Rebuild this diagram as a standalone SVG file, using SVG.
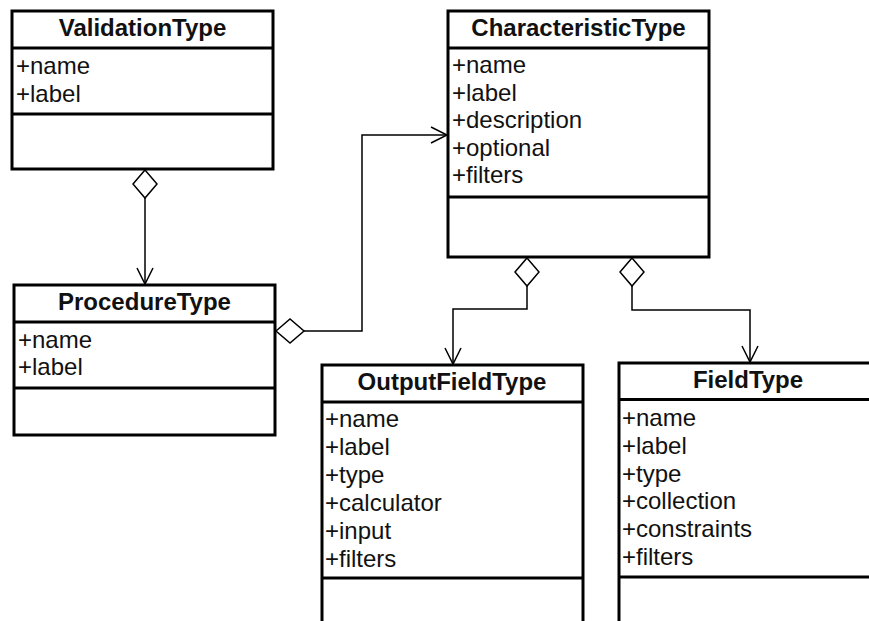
<svg xmlns="http://www.w3.org/2000/svg" width="869" height="621" viewBox="0 0 869 621">
<style>
  .box{fill:#fff;stroke:#000;stroke-width:3}
  .sep{stroke:#000;stroke-width:3}
  .title{font-family:"Liberation Sans",Arial,sans-serif;font-size:24px;font-weight:bold;fill:#111;text-anchor:middle}
  .attr{font-family:"Liberation Sans",Arial,sans-serif;font-size:24px;fill:#111}
  .conn{fill:none;stroke:#000;stroke-width:1.5;marker-start:url(#diamond);marker-end:url(#arrow)}
</style>
<defs>
  <marker id="diamond" markerUnits="userSpaceOnUse" viewBox="-2 -14 32 28" refX="0" refY="0" markerWidth="32" markerHeight="28" orient="auto" overflow="visible">
    <path d="M0,0 L14,-12 L28,0 L14,12 Z" fill="#fff" stroke="#000" stroke-width="1.5"/>
  </marker>
  <marker id="arrow" markerUnits="userSpaceOnUse" viewBox="-18 -10 20 20" refX="0" refY="0" markerWidth="20" markerHeight="20" orient="auto" overflow="visible">
    <path d="M-16,-8 L0,0 L-16,8" fill="none" stroke="#000" stroke-width="1.5"/>
  </marker>
</defs>

<g id="connectors">
  <path class="conn" d="M145,170 L145,284"/>
  <path class="conn" d="M276,331 L362,331 L362,135 L447,135"/>
  <path class="conn" d="M527,258 L527,309 L453,309 L453,364"/>
  <path class="conn" d="M632,258 L632,310 L750,310 L750,362"/>
</g>

<g id="ValidationType">
  <rect class="box" x="12" y="11" width="261" height="158"/>
  <line class="sep" x1="12" y1="48" x2="273" y2="48"/>
  <line class="sep" x1="12" y1="114" x2="273" y2="114"/>
  <text class="title" x="142.5" y="36">ValidationType</text>
  <text class="attr" x="16" y="74">+name</text>
  <text class="attr" x="16" y="101.5">+label</text>
</g>

<g id="ProcedureType">
  <rect class="box" x="14" y="285" width="261" height="150"/>
  <line class="sep" x1="14" y1="322" x2="275" y2="322"/>
  <line class="sep" x1="14" y1="388" x2="275" y2="388"/>
  <text class="title" x="144.5" y="310">ProcedureType</text>
  <text class="attr" x="18" y="347.5">+name</text>
  <text class="attr" x="18" y="375">+label</text>
</g>

<g id="CharacteristicType">
  <rect class="box" x="448" y="11" width="261" height="246"/>
  <line class="sep" x1="448" y1="48" x2="709" y2="48"/>
  <line class="sep" x1="448" y1="197" x2="709" y2="197"/>
  <text class="title" x="578.5" y="35.5">CharacteristicType</text>
  <text class="attr" x="452" y="73.3">+name</text>
  <text class="attr" x="452" y="100.8">+label</text>
  <text class="attr" x="452" y="128.3">+description</text>
  <text class="attr" x="452" y="155.8">+optional</text>
  <text class="attr" x="452" y="183.3">+filters</text>
</g>

<g id="OutputFieldType">
  <rect class="box" x="322" y="365" width="261" height="300"/>
  <line class="sep" x1="322" y1="402" x2="583" y2="402"/>
  <line class="sep" x1="322" y1="578" x2="583" y2="578"/>
  <text class="title" x="452" y="389.5">OutputFieldType</text>
  <text class="attr" x="325" y="427">+name</text>
  <text class="attr" x="325" y="455">+label</text>
  <text class="attr" x="325" y="482.7">+type</text>
  <text class="attr" x="325" y="511">+calculator</text>
  <text class="attr" x="325" y="538.5">+input</text>
  <text class="attr" x="325" y="566.7">+filters</text>
</g>

<g id="FieldType">
  <rect class="box" x="619" y="363" width="261" height="300"/>
  <line class="sep" x1="619" y1="399.5" x2="880" y2="399.5"/>
  <line class="sep" x1="619" y1="577" x2="880" y2="577"/>
  <text class="title" x="748" y="387.5">FieldType</text>
  <text class="attr" x="622" y="426">+name</text>
  <text class="attr" x="622" y="454">+label</text>
  <text class="attr" x="622" y="481.7">+type</text>
  <text class="attr" x="622" y="509.3">+collection</text>
  <text class="attr" x="622" y="537.3">+constraints</text>
  <text class="attr" x="622" y="565">+filters</text>
</g>
</svg>
